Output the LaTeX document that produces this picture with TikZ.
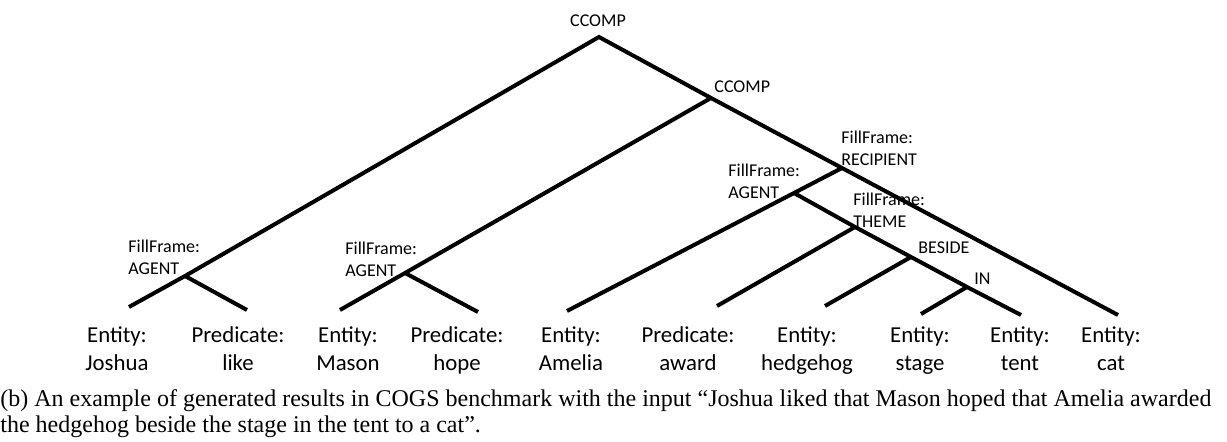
\documentclass[tikz,border=0pt]{standalone}
\usepackage{fontspec}
\setmainfont{Liberation Serif}
\newfontfamily\carl{Carlito}
\begin{document}
\begin{tikzpicture}[x=0.5pt,y=-0.5pt,
  edge/.style={line width=2pt},
  lab/.style={font=\carl\fontsize{9}{11}\selectfont, inner sep=0pt, anchor=west, align=left},
  leaf/.style={font=\carl\fontsize{11.4}{14}\selectfont, inner sep=0pt, align=center},
  captext/.style={font=\fontsize{12}{13}\selectfont, inner sep=0pt, anchor=base west}]
\useasboundingbox (0,0) rectangle (1227,442);
% internal nodes
\coordinate (r) at (599,37);
\coordinate (c2) at (711,98);
\coordinate (rec) at (842,168);
\coordinate (ag3) at (794,193);
\coordinate (th) at (855,227);
\coordinate (be) at (911,257);
\coordinate (inn) at (967,287);
\coordinate (ag1) at (185,276);
\coordinate (ag2) at (405,273);
% leaf ends
\coordinate (eJ) at (129,307);
\coordinate (eL) at (247,310);
\coordinate (eM) at (340,310);
\coordinate (eH) at (478,312);
\coordinate (eA) at (567,311);
\coordinate (eW) at (717,306);
\coordinate (eG) at (825,306);
\coordinate (eS) at (921,314);
\coordinate (eT) at (1021,315);
\coordinate (eC) at (1118,315);
% edges
\draw[edge] (eJ) -- (ag1) -- (r) -- (c2) -- (rec) -- (eC);
\draw[edge] (ag1) -- (eL);
\draw[edge] (eM) -- (ag2) -- (c2);
\draw[edge] (ag2) -- (eH);
\draw[edge] (eA) -- (ag3) -- (rec);
\draw[edge] (ag3) -- (th) -- (be) -- (inn) -- (eT);
\draw[edge] (th) -- (eW);
\draw[edge] (be) -- (eG);
\draw[edge] (inn) -- (eS);
% labels of internal nodes
\node[lab, anchor=center] (lr) at (598,21) {CCOMP};
\node[lab] (lc2) at (714,87) {CCOMP};
\node[lab] (lrec) at (841,148) {FillFrame:\\RECIPIENT};
\node[lab] (lag3) at (728,181) {FillFrame:\\AGENT};
\node[lab] (lth) at (853,210) {FillFrame:\\THEME};
\node[lab] (lbe) at (918,248) {BESIDE};
\node[lab] (lin) at (974,279) {IN};
\node[lab] (lag1) at (128,257) {FillFrame:\\AGENT};
\node[lab] (lag2) at (345,259) {FillFrame:\\AGENT};
% leaf labels
\node[leaf] (tJ) at (117,351) {\strut Entity:\\\strut Joshua};
\node[leaf] (tL) at (238,351) {\strut Predicate:\\\strut like};
\node[leaf] (tM) at (348,351) {\strut Entity:\\\strut Mason};
\node[leaf] (tH) at (457,351) {\strut Predicate:\\\strut hope};
\node[leaf] (tA) at (571,351) {\strut Entity:\\\strut Amelia};
\node[leaf] (tW) at (688,351) {\strut Predicate:\\\strut award};
\node[leaf] (tG) at (807,351) {\strut Entity:\\\strut hedgehog};
\node[leaf] (tS) at (920,351) {\strut Entity:\\\strut stage};
\node[leaf] (tT) at (1020,351) {\strut Entity:\\\strut tent};
\node[leaf] (tC) at (1111,351) {\strut Entity:\\\strut cat};
% caption
\node[captext] (cap1) at (0,407) {(b) An example of generated results in COGS benchmark with the input “Joshua liked that Mason hoped that Amelia awarded};
\node[captext] (cap2) at (0,433) {the hedgehog beside the stage in the tent to a cat”.};
\end{tikzpicture}
\end{document}
